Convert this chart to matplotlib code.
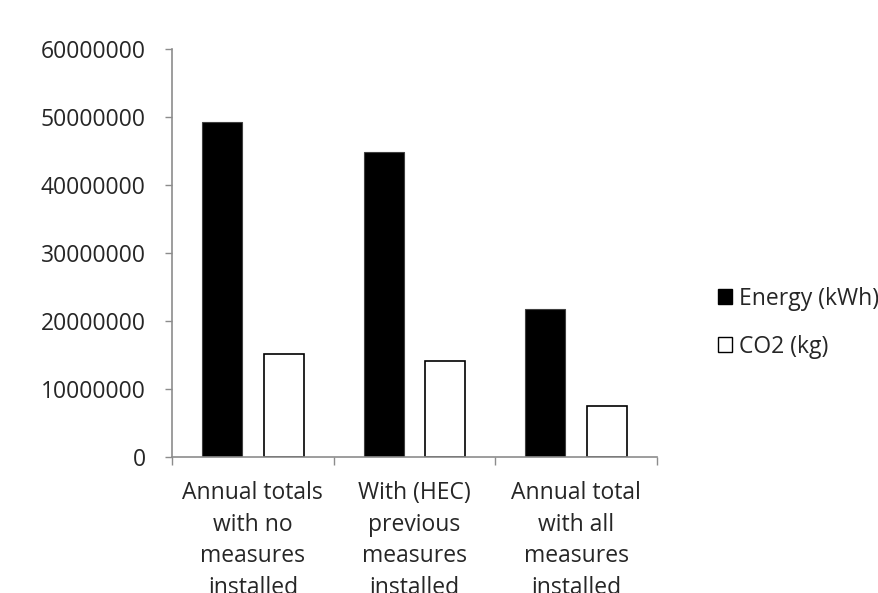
import matplotlib
matplotlib.use("Agg")
import matplotlib.pyplot as plt
import numpy as np
from matplotlib.patches import Patch

categories = ["Annual totals\nwith no\nmeasures\ninstalled",
              "With (HEC)\nprevious\nmeasures\ninstalled",
              "Annual total\nwith all\nmeasures\ninstalled"]
energy_kwh = [49350000, 44900000, 21750000]
co2_kg = [15200000, 14150000, 7500000]
series_names = ["Energy (kWh)", "CO2 (kg)"]

plt.rcParams["font.family"] = ["Open Sans", "DejaVu Sans"]
text_color = "#262626"
axis_color = "#8c8c8c"

fig = plt.figure(figsize=(8.79, 5.93), dpi=100)
ax = fig.add_axes([0.1957, 0.2288, 0.5517, 0.6881])

x = np.arange(len(categories))
w = 0.248
off = 0.19
ax.bar(x - off, energy_kwh, width=w, color="black", edgecolor="#404040", linewidth=0.8)
ax.bar(x + off, co2_kg, width=w, color="white", edgecolor="black", linewidth=1.2)

ax.set_xlim(-0.5, len(categories) - 0.5)
ax.set_ylim(0, 60000000)
ax.set_yticks(np.arange(0, 60000001, 10000000))
ax.set_yticklabels([f"{int(v)}" for v in np.arange(0, 60000001, 10000000)])

# category labels run off the bottom edge, as in the source chart
ax.set_xticks(x)
ax.set_xticklabels(categories, linespacing=1.43)
ax.set_xticks(np.arange(-0.5, len(categories)), minor=True)
ax.tick_params(axis="x", which="major", length=0, pad=17, labelsize=16.5, colors=text_color)
ax.tick_params(axis="x", which="minor", length=6, width=1, color=axis_color, direction="out")
ax.tick_params(axis="y", length=5, width=1, color=axis_color, direction="out",
               pad=14, labelsize=16.5, labelcolor=text_color)

for s in ["top", "right"]:
    ax.spines[s].set_visible(False)
for s in ["left", "bottom"]:
    ax.spines[s].set_color(axis_color)
    ax.spines[s].set_linewidth(1.2)

handles = [Patch(facecolor="black", edgecolor="black"),
           Patch(facecolor="white", edgecolor="black")]
ax.legend(handles, series_names, loc="center left", bbox_to_anchor=(1.106, 0.33),
          frameon=False, fontsize=16.5, handlelength=0.65, handleheight=0.65,
          handletextpad=0.3, labelspacing=1.05, borderaxespad=0, labelcolor=text_color)

fig.savefig("out.png", dpi=100)
